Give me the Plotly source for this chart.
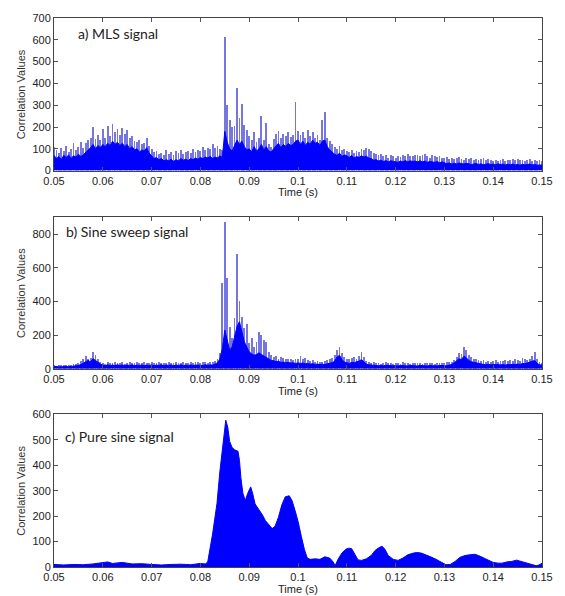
import plotly.graph_objects as go

# ---------------- data ----------------
x_ticks = [0.05, 0.06, 0.07, 0.08, 0.09, 0.10, 0.11, 0.12, 0.13, 0.14, 0.15]
x_tick_labels = ["0.05", "0.06", "0.07", "0.08", "0.09", "0.1", "0.11", "0.12", "0.13", "0.14", "0.15"]

panel_titles = ["a) MLS signal", "b) Sine sweep signal", "c) Pure sine signal"]
y_ranges = [[0, 700], [0, 900], [0, 600]]
y_ticks = [[0, 100, 200, 300, 400, 500, 600, 700],
           [0, 200, 400, 600, 800],
           [0, 100, 200, 300, 400, 500, 600]]

fine_step = 0.0005   # sample spacing of the read-off values
t_start = 0.05

# a) MLS signal: spike tops every 0.5 ms, 0.0500 .. 0.1500
a_tops = [
    110, 95, 80, 105, 90, 115, 85, 100, 125, 95,
    110, 130, 105, 125, 140, 150, 200, 145, 165, 140,
    190, 150, 205, 160, 212, 175, 190, 165, 195, 170,
    185, 150, 160, 135, 130, 140, 120, 125, 150, 115,
    100, 85, 90, 75, 80, 70, 95, 75, 85, 70,
    90, 80, 95, 75, 85, 90, 80, 100, 85, 95,
    90, 110, 95, 105, 100, 120, 105, 115, 100, 95,
    615, 300, 230, 200, 205, 380, 240, 305, 210, 185,
    160, 140, 175, 130, 150, 250, 140, 220, 120, 110,
    145, 170, 180, 150, 170, 160, 175, 155, 165, 317,
    180, 165, 175, 150, 185, 160, 175, 150, 165, 140,
    230, 267, 150, 135, 120, 110, 100, 115, 95, 100,
    90, 85, 95, 80, 90, 85, 100, 95, 105, 100,
    90, 80, 75, 70, 75, 65, 70, 60, 70, 65,
    60, 68, 62, 70, 65, 75, 68, 65, 70, 72,
    66, 70, 74, 68, 60, 72, 65, 62, 68, 60,
    58, 62, 55, 60, 52, 58, 62, 55, 50, 57,
    52, 58, 50, 55, 48, 52, 56, 50, 54, 48,
    45, 50, 44, 48, 52, 46, 50, 47, 53, 49,
    52, 47, 50, 45, 49, 52, 46, 50, 44, 48,
    45,
]
# a) MLS signal: dense (dark) body every 0.5 ms
a_body = [
    70, 55, 65, 50, 70, 60, 72, 55, 68, 62,
    75, 65, 72, 85, 95, 105, 120, 100, 115, 105,
    120, 110, 125, 115, 135, 120, 130, 115, 125, 110,
    120, 100, 110, 95, 100, 85, 95, 90, 105, 80,
    65, 55, 60, 50, 55, 45, 50, 45, 52, 42,
    50, 45, 55, 48, 52, 46, 55, 50, 58, 52,
    60, 55, 62, 58, 65, 55, 62, 58, 68, 60,
    180, 130, 100, 90, 115, 140, 120, 135, 110, 95,
    100, 85, 110, 90, 100, 120, 95, 110, 90, 85,
    100, 115, 125, 105, 120, 110, 125, 115, 120, 135,
    140, 120, 135, 115, 130, 120, 140, 125, 130, 115,
    135, 140, 110, 95, 85, 75, 70, 80, 65, 72,
    68, 60, 70, 58, 65, 60, 68, 62, 66, 58,
    55, 48, 50, 44, 48, 42, 46, 40, 45, 42,
    42, 38, 44, 40, 46, 40, 45, 42, 44, 40,
    45, 40, 44, 38, 42, 40, 38, 42, 36, 40,
    36, 32, 35, 30, 34, 30, 35, 32, 30, 34,
    32, 28, 30, 33, 28, 31, 27, 30, 32, 28,
    30, 27, 31, 28, 30, 26, 29, 27, 30, 26,
    28, 25, 29, 26, 28, 30, 26, 28, 25, 27,
    26,
]

# b) Sine sweep signal
b_tops = [
    20, 18, 22, 20, 19, 21, 20, 22, 25, 28,
    35, 45, 55, 75, 60, 65, 100, 80, 55, 40,
    35, 30, 38, 32, 35, 40, 33, 36, 42, 30,
    35, 38, 32, 36, 40, 34, 33, 38, 35, 36,
    38, 32, 35, 40, 34, 36, 33, 38, 35, 32,
    40, 35, 33, 38, 36, 34, 37, 35, 40, 38,
    35, 40, 38, 36, 42, 38, 45, 60, 90, 510,
    870, 540, 250, 180, 300, 678, 400, 305, 240, 263,
    150, 180, 130, 160, 218, 200, 170, 160, 100, 80,
    70, 75, 60, 70, 65, 60, 55, 60, 50, 55,
    60, 75, 55, 65, 50, 45, 50, 40, 45, 38,
    40, 45, 50, 60, 65, 80, 110, 130, 90, 70,
    55, 60, 65, 70, 60, 75, 100, 70, 45, 40,
    35, 38, 32, 36, 30, 34, 38, 32, 35, 30,
    33, 36, 30, 38, 32, 35, 30, 34, 36, 31,
    35, 30, 33, 36, 31, 34, 30, 35, 32, 36,
    34, 38, 40, 42, 50, 70, 90, 85, 130, 110,
    80, 70, 60, 55, 50, 45, 50, 42, 48, 40,
    45, 50, 42, 48, 44, 52, 46, 50, 45, 55,
    50, 48, 65, 55, 50, 60, 75, 100, 60, 40,
    35,
]
b_body = [
    12, 14, 11, 13, 12, 14, 12, 13, 15, 17,
    20, 25, 35, 45, 50, 40, 60, 50, 38, 28,
    22, 18, 24, 20, 22, 19, 24, 20, 23, 19,
    22, 20, 24, 19, 22, 20, 23, 19, 22, 20,
    23, 19, 22, 20, 24, 19, 22, 20, 23, 19,
    22, 20, 24, 19, 22, 20, 23, 20, 22, 21,
    22, 20, 24, 21, 23, 22, 28, 35, 60, 120,
    230, 160, 110, 130, 190, 250, 280, 220, 160, 130,
    100, 90, 80, 85, 95, 85, 75, 70, 55, 50,
    48, 42, 45, 38, 40, 36, 38, 34, 36, 32,
    35, 32, 34, 30, 32, 28, 30, 26, 28, 25,
    27, 25, 30, 32, 36, 45, 70, 80, 55, 40,
    35, 32, 38, 36, 42, 45, 55, 40, 28, 24,
    22, 20, 21, 18, 20, 18, 21, 19, 20, 18,
    19, 17, 20, 18, 19, 17, 20, 18, 19, 17,
    20, 18, 19, 17, 20, 18, 19, 17, 20, 18,
    19, 18, 22, 26, 35, 48, 60, 55, 75, 65,
    50, 42, 38, 34, 30, 28, 26, 24, 27, 24,
    25, 22, 26, 23, 25, 22, 26, 24, 27, 25,
    28, 26, 32, 30, 35, 40, 45, 50, 32, 24,
    22,
]

# c) Pure sine signal: envelope samples (time, value)
c_time = [
    0.050, 0.052, 0.054, 0.056, 0.058, 0.060, 0.061, 0.062, 0.064, 0.066,
    0.068, 0.070, 0.072, 0.074, 0.076, 0.078, 0.080, 0.0810, 0.0815, 0.0825,
    0.0834, 0.0840, 0.0846, 0.0852, 0.0856, 0.0860, 0.0865, 0.0870, 0.0877, 0.0880,
    0.0883, 0.0887, 0.0892, 0.0897, 0.0903, 0.0907, 0.0912, 0.0917, 0.0921, 0.0927,
    0.0933, 0.0940, 0.0947, 0.0953, 0.0960, 0.0967, 0.0974, 0.0982, 0.0988, 0.0994,
    0.1000, 0.1007, 0.1013, 0.1019, 0.1025, 0.1035, 0.1045, 0.1055, 0.1065, 0.1072,
    0.1076, 0.1082, 0.1090, 0.1098, 0.1104, 0.1110, 0.1116, 0.1123, 0.1130, 0.1140,
    0.1150, 0.1158, 0.1165, 0.1172, 0.1178, 0.1185, 0.1195, 0.1205, 0.1215, 0.1225,
    0.1235, 0.1243, 0.1252, 0.1262, 0.1272, 0.1283, 0.1295, 0.1303, 0.1312, 0.1322,
    0.1332, 0.1342, 0.1352, 0.1362, 0.1370, 0.1380, 0.1390, 0.1400, 0.1410, 0.1418,
    0.1428, 0.1438, 0.1448, 0.1458, 0.1468, 0.1478, 0.1488, 0.1494, 0.1500,
]
c_values = [
    10, 8, 10, 9, 12, 18, 20, 14, 18, 12,
    13, 10, 8, 10, 11, 9, 14, 12, 20, 130,
    250, 377, 480, 577, 550, 493, 470, 461, 455, 420,
    351, 290, 261, 290, 315, 290, 248, 235, 225, 205,
    183, 165, 151, 160, 196, 245, 276, 280, 260, 222,
    180, 119, 70, 35, 30, 32, 30, 40, 35, 20,
    5, 30, 55, 70, 74, 72, 50, 28, 26, 32,
    45, 65, 75, 82, 70, 45, 30, 26, 35, 48,
    54, 57, 55, 48, 40, 30, 18, 9, 10, 22,
    38, 45, 48, 50, 45, 35, 25, 18, 15, 15,
    20, 22, 27, 22, 18, 12, 5, 8, 15,
]

assert len(a_tops) == 201 and len(b_tops) == 201
assert len(a_body) == 201 and len(b_body) == 201
assert len(c_time) == len(c_values)

# ---------------- figure ----------------
W, H = 565, 596
ML, MR, MT, MB = 54, 15, 13, 29
plot_h = H - MT - MB


def py(p):
    """pixel row -> paper y"""
    return (H - MB - p) / plot_h


def px(p):
    return (p - ML) / (W - ML - MR)


panel_px = [(13, 167), (214, 367), (413, 567)]

BLUE = "#0000ff"
SPIKE = "rgb(118,118,226)"

fine_t = [round(t_start + i * fine_step, 5) for i in range(201)]

fig = go.Figure()

for k, (tops, body) in enumerate([(a_tops, a_body), (b_tops, b_body)]):
    xa = "x" if k == 0 else f"x{k+1}"
    ya = "y" if k == 0 else f"y{k+1}"
    fig.add_trace(go.Bar(x=fine_t, y=tops, width=0.00017, marker=dict(color=SPIKE, line=dict(width=0)),
                         opacity=1, xaxis=xa, yaxis=ya, showlegend=False, hoverinfo="skip"))
    fig.add_trace(go.Scatter(x=fine_t, y=body, mode="lines", line=dict(color=BLUE, width=1),
                             fill="tozeroy", fillcolor=BLUE,
                             xaxis=xa, yaxis=ya, showlegend=False, hoverinfo="skip"))

fig.add_trace(go.Scatter(x=c_time, y=c_values, mode="lines", line=dict(color=BLUE, width=1),
                         fill="tozeroy", fillcolor=BLUE, xaxis="x3", yaxis="y3",
                         showlegend=False, hoverinfo="skip"))

axis_common = dict(showline=True, linecolor="#444444", linewidth=1, mirror="ticks",
                   ticks="inside", ticklen=4, tickcolor="#555555", showgrid=False, zeroline=False,
                   tickfont=dict(family="Liberation Sans, Arial, sans-serif", size=11, color="#222222"))

layout = dict(width=W, height=H, margin=dict(l=ML, r=MR, t=MT, b=MB),
              paper_bgcolor="white", plot_bgcolor="white", barmode="overlay", bargap=0,
              showlegend=False)

annotations = []
for k in range(3):
    top_px, bot_px = panel_px[k]
    sfx = "" if k == 0 else str(k + 1)
    layout[f"xaxis{sfx}"] = dict(axis_common, domain=[0, 1], range=[0.05, 0.15],
                                 tickvals=x_ticks, ticktext=x_tick_labels,
                                 anchor=f"y{sfx}")
    layout[f"yaxis{sfx}"] = dict(axis_common, domain=[py(bot_px), py(top_px)], range=y_ranges[k],
                                 tickvals=y_ticks[k], anchor=f"x{sfx}")
    annotations.append(dict(text="Time (s)", xref="paper", yref="paper", x=0.5, y=py(bot_px + 22),
                            xanchor="center", yanchor="middle", showarrow=False,
                            font=dict(family="Liberation Sans, Arial, sans-serif", size=11, color="#222222")))
    annotations.append(dict(text="Correlation Values", xref="paper", yref="paper", x=px(20.5),
                            y=py((top_px + bot_px) / 2), textangle=-90, xanchor="center", yanchor="middle",
                            showarrow=False,
                            font=dict(family="Liberation Sans, Arial, sans-serif", size=11, color="#333333")))

title_pos = [(76, 29), (64, 228), (63, 435)]
for k, (tx, ty) in enumerate(title_pos):
    annotations.append(dict(text=panel_titles[k], xref="paper", yref="paper", x=px(tx), y=py(ty),
                            xanchor="left", yanchor="middle", showarrow=False,
                            font=dict(family="Lato, Open Sans, sans-serif", size=14, color="#222222")))

layout["annotations"] = annotations
fig.update_layout(**layout)
fig.write_html("out.html", config={"displayModeBar": False},
               post_script="document.body.style.margin='0';document.body.style.overflow='hidden';")
